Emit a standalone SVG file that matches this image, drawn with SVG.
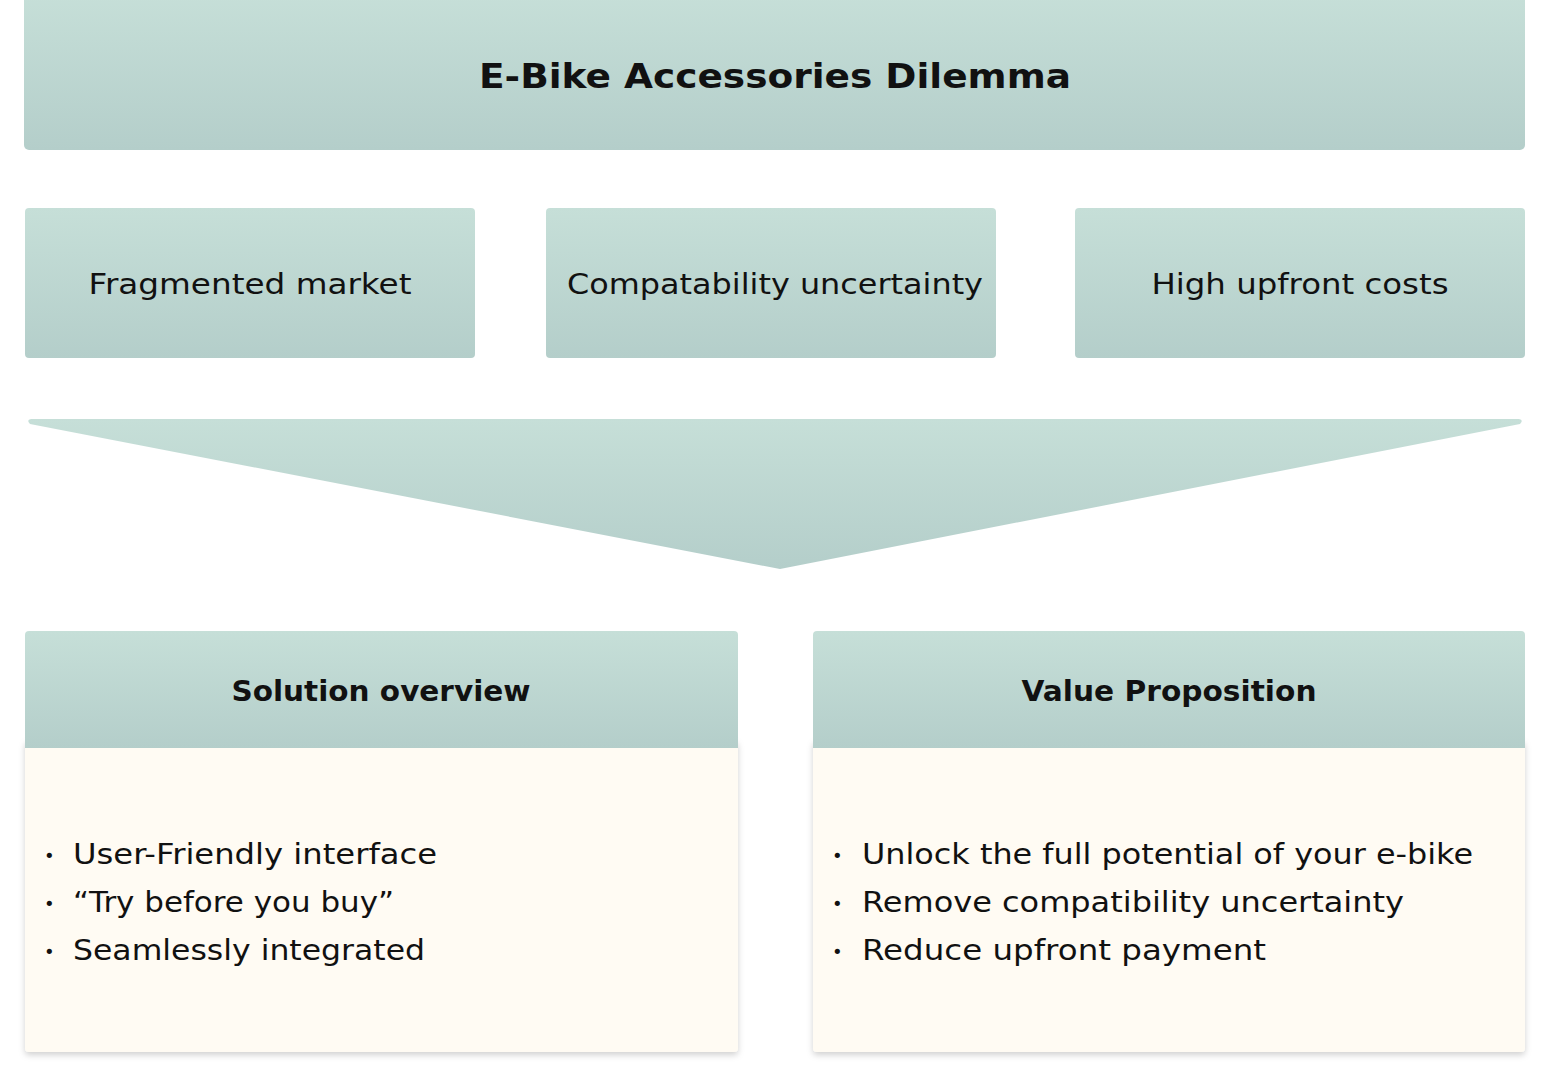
<svg xmlns="http://www.w3.org/2000/svg" width="1550" height="1066" viewBox="0 0 1550 1066">
<defs>
<linearGradient id="g" x1="0" y1="0" x2="0" y2="1">
<stop offset="0" stop-color="#c6dfd8"/>
<stop offset="1" stop-color="#b4ceca"/>
</linearGradient>
<filter id="sh" x="-5%" y="-5%" width="110%" height="115%">
<feDropShadow dx="0" dy="3" stdDeviation="3" flood-color="#000" flood-opacity="0.18"/>
</filter>
</defs>
<style>
.box{fill:url(#g)}
.body{fill:#fffbf3}
text{font-family:"DejaVu Sans","Noto Sans",sans-serif;fill:#111}
.t{font-size:34px;font-weight:bold;text-anchor:middle}
.m{font-size:29px;text-anchor:middle}
.h{font-size:28px;font-weight:bold;text-anchor:middle}
.b{font-size:28px}
.d{font-size:18px}
</style>
<rect width="1550" height="1066" fill="#fff"/>
<g id="title">
<rect class="box" x="24" y="-6" width="1501" height="156" rx="5"/>
<text class="t" x="775" y="88" textLength="592" lengthAdjust="spacingAndGlyphs">E-Bike Accessories Dilemma</text>
</g>
<g id="fragmented">
<rect class="box" x="25" y="208" width="450" height="150" rx="4"/>
<text class="m" x="250" y="294" textLength="323" lengthAdjust="spacingAndGlyphs">Fragmented market</text>
</g>
<g id="compat">
<rect class="box" x="546" y="208" width="450" height="150" rx="4"/>
<text class="m" x="775" y="294" textLength="416" lengthAdjust="spacingAndGlyphs">Compatability uncertainty</text>
</g>
<g id="costs">
<rect class="box" x="1075" y="208" width="450" height="150" rx="4"/>
<text class="m" x="1300" y="294" textLength="297" lengthAdjust="spacingAndGlyphs">High upfront costs</text>
</g>
<g id="connectors">
<path class="box" d="M31 419 L1519 419 Q1524 420 1520 424 L780 569 L30 424 Q26 420 31 419 Z"/>
</g>
<g id="solution">
<rect class="body" x="25" y="740" width="713" height="312" rx="4" filter="url(#sh)"/>
<path class="box" d="M25 748 V635 Q25 631 29 631 H734 Q738 631 738 635 V748 Z"/>
<text class="h" x="381" y="701" textLength="299" lengthAdjust="spacingAndGlyphs">Solution overview</text>
<text class="d" x="44" y="862">•</text>
<text class="b" x="73" y="864" textLength="364" lengthAdjust="spacingAndGlyphs">User-Friendly interface</text>
<text class="d" x="44" y="910">•</text>
<text class="b" x="73" y="912" textLength="321" lengthAdjust="spacingAndGlyphs">“Try before you buy”</text>
<text class="d" x="44" y="958">•</text>
<text class="b" x="73" y="960" textLength="352" lengthAdjust="spacingAndGlyphs">Seamlessly integrated</text>
</g>
<g id="value">
<rect class="body" x="813" y="740" width="712" height="312" rx="4" filter="url(#sh)"/>
<path class="box" d="M813 748 V635 Q813 631 817 631 H1521 Q1525 631 1525 635 V748 Z"/>
<text class="h" x="1169" y="701" textLength="295" lengthAdjust="spacingAndGlyphs">Value Proposition</text>
<text class="d" x="832" y="862">•</text>
<text class="b" x="862" y="864" textLength="611" lengthAdjust="spacingAndGlyphs">Unlock the full potential of your e-bike</text>
<text class="d" x="832" y="910">•</text>
<text class="b" x="862" y="912" textLength="542" lengthAdjust="spacingAndGlyphs">Remove compatibility uncertainty</text>
<text class="d" x="832" y="958">•</text>
<text class="b" x="862" y="960" textLength="404" lengthAdjust="spacingAndGlyphs">Reduce upfront payment</text>
</g>
</svg>
